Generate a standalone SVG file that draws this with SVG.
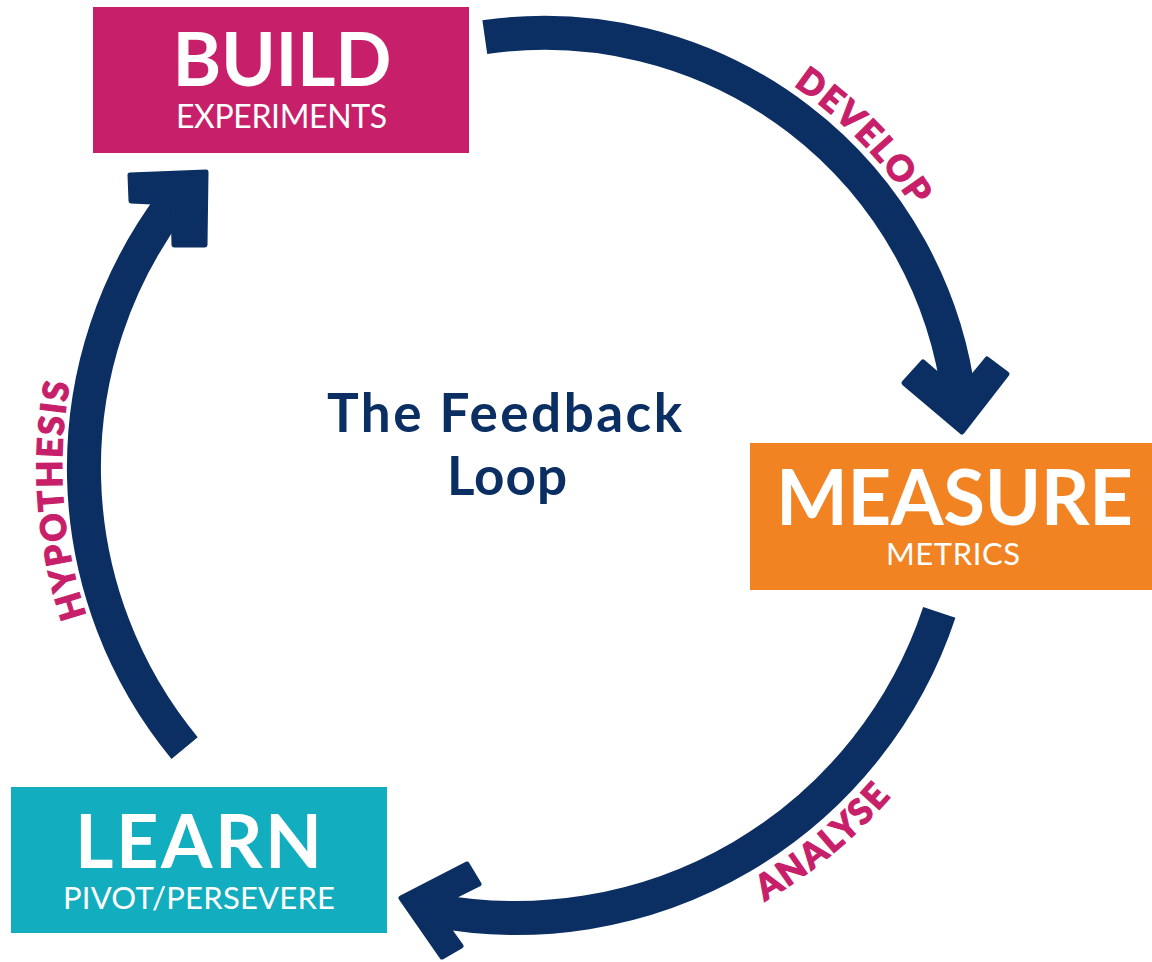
<svg xmlns="http://www.w3.org/2000/svg" width="1152" height="962" viewBox="0 0 1152 962">
  <style>
    .shaft { fill: none; stroke: #0B2F63; stroke-width: 34; stroke-linecap: butt; }
    .head { fill: #0B2F63; stroke: #0B2F63; stroke-width: 5; stroke-linejoin: round; }
    .big { font-family: Lato, "Open Sans", "Liberation Sans", sans-serif; font-weight: 700; fill: #FFFFFF; text-anchor: middle; }
    .sub { font-family: Lato, "Open Sans", "Liberation Sans", sans-serif; font-weight: 400; fill: #FFFFFF; text-anchor: middle; }
    .title { font-family: Lato, "Open Sans", "Liberation Sans", sans-serif; font-weight: 700; fill: #0B2F63; text-anchor: middle; font-size: 53px; }
    .lbl { font-family: Lato, "Open Sans", "Liberation Sans", sans-serif; font-weight: 900; fill: #C71F69; stroke: #C71F69; stroke-width: 1.2; font-size: 35px; letter-spacing: 2px; text-anchor: middle; }
  </style>
  <defs>
    <path id="pDevelop" d="M 699.2 36.8 A 442 442 0 0 1 961.0 303.3"/>
    <path id="pAnalyse" d="M 641.9 951.8 A 496 496 0 0 0 964.4 684.0"/>
    <path id="pHypo" d="M 120.3 691.9 A 463 463 0 0 1 92.7 301.2"/>
  </defs>
  <rect width="1152" height="962" fill="#FFFFFF"/>

  <g id="connectors">
    <g id="develop">
      <path class="shaft" d="M 484.8 37.1 A 418 418 0 0 1 959.3 399.9"/>
      <polygon class="head" points="923,362 904,383 962,432 1007,374 987,359 959,393"/>
    </g>
    <g id="analyse">
      <path class="shaft" d="M 939.3 612.4 A 446 446 0 0 1 432.4 910.1"/>
      <polygon class="head" points="401,898 467,864 479,884 433,907 461,946 442,957"/>
    </g>
    <g id="hypothesis">
      <path class="shaft" d="M 184.6 748.1 A 440.7 440.7 0 0 1 172.6 202.6"/>
      <polygon class="head" points="130,175 206,172 205,245 174,245 173,203 131,201"/>
    </g>
    <text class="lbl"><textPath href="#pDevelop" startOffset="50%">DEVELOP</textPath></text>
    <text class="lbl"><textPath href="#pAnalyse" startOffset="50%">ANALYSE</textPath></text>
    <text class="lbl"><textPath href="#pHypo" startOffset="50%">HYPOTHESIS</textPath></text>
  </g>

  <g id="build">
    <rect x="93" y="7" width="376" height="146" fill="#C71F69"/>
    <text class="big" x="282" y="86" font-size="74" textLength="219">BUILD</text>
    <text class="sub" x="281.5" y="128" font-size="32" textLength="211">EXPERIMENTS</text>
  </g>

  <g id="measure">
    <rect x="750" y="443" width="402" height="147" fill="#F28322"/>
    <text class="big" x="954.5" y="525" font-size="76" textLength="357">MEASURE</text>
    <text class="sub" x="953" y="565" font-size="31" textLength="134">METRICS</text>
  </g>

  <g id="learn">
    <rect x="11" y="787" width="376" height="146" fill="#12ADBE"/>
    <text class="big" x="198.5" y="868" font-size="74" textLength="247">LEARN</text>
    <text class="sub" x="199" y="909" font-size="31" textLength="272">PIVOT/PERSEVERE</text>
  </g>

  <g id="title">
    <text class="title" x="504.5" y="432" textLength="355">The Feedback</text>
    <text class="title" x="507" y="495" textLength="120">Loop</text>
  </g>
</svg>
